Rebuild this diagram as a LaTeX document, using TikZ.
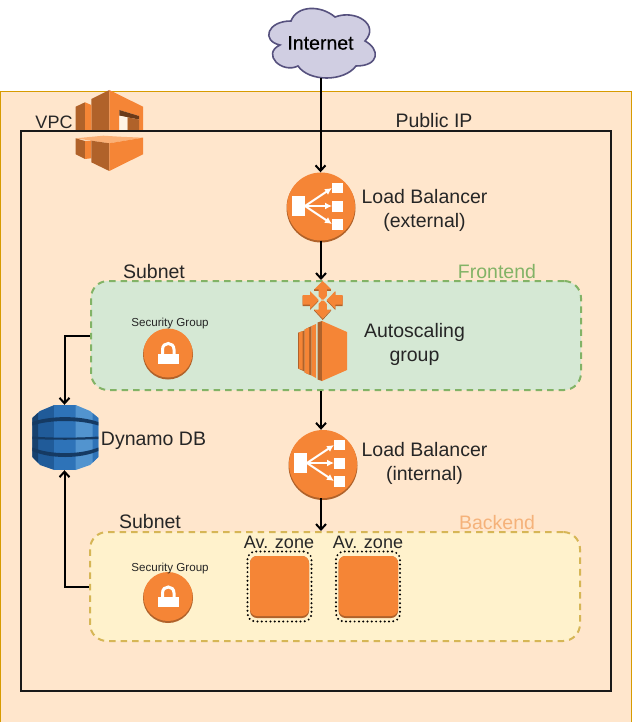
\documentclass[tikz,border=0pt]{standalone}
\usepackage{fontspec}
\setmainfont{Liberation Sans}
\usetikzlibrary{arrows.meta}
\definecolor{vpcfill}{HTML}{FFE6CC}
\definecolor{vpcline}{HTML}{D79B00}
\definecolor{frontfill}{HTML}{D5E8D4}
\definecolor{frontline}{HTML}{82B366}
\definecolor{backfill}{HTML}{FFF2CC}
\definecolor{backline}{HTML}{D6B656}
\definecolor{backtext}{HTML}{F5B27A}
\definecolor{cloudfill}{HTML}{D0CEE2}
\definecolor{cloudline}{HTML}{56517E}
\definecolor{awsorange}{HTML}{F58536}
\definecolor{awsdark}{HTML}{B0622A}
\definecolor{awsbrown}{HTML}{6B3A19}
\definecolor{awslight}{HTML}{FBB076}
\definecolor{dbleft}{HTML}{205B99}
\definecolor{dbmid}{HTML}{2E73B8}
\definecolor{dbright}{HTML}{5294CF}
\definecolor{dbdark}{HTML}{153A63}
\tikzset{
	flow/.style={line width=2pt, -{Straight Barb[length=5.5pt,width=10pt]}},
	labelbig/.style={font=\fontsize{19.5}{24}\selectfont, text=black!85, align=center, inner sep=0pt},
	labelzone/.style={font=\fontsize{18}{24}\selectfont, text=black!85, inner sep=0pt},
	labelsmall/.style={font=\fontsize{11.6}{13}\selectfont, text=black!85, inner sep=0pt},
	zonebox/.style={draw=black, line width=2.2pt, line cap=round, dash pattern=on 0pt off 4.3pt, rounded corners=8pt, minimum width=64pt, minimum height=70pt, inner sep=0pt},
	subnetbox/.style={line width=2pt, dash pattern=on 6.5pt off 5pt, rounded corners=17pt, minimum width=490pt, minimum height=109pt, inner sep=0pt},
	roundicon/.style={circle, fill=awsorange, minimum size=#1, inner sep=0pt}
}
% load balancer marks round a centre
\def\lbicon(#1,#2){
	\begin{scope}[shift={(#1,#2)}]
		\fill[white] (-29,-11) rectangle (-16,9);
		\fill[white] (11,-24.5) rectangle (22,-14);
		\fill[white] (11,-6.5) rectangle (22,4.5);
		\fill[white] (11,12) rectangle (22,22.5);
		\draw[white, line width=2pt, -{Latex[length=7pt,width=7pt]}] (-16,-1) -- (11,-19);
		\draw[white, line width=2pt, -{Latex[length=7pt,width=7pt]}] (-16,-1) -- (11,-1);
		\draw[white, line width=2pt, -{Latex[length=7pt,width=7pt]}] (-16,-1) -- (11,17);
	\end{scope}
}
\def\lockicon(#1,#2){
	\begin{scope}[shift={(#1,#2)}]
		\fill[white] (-10,0) rectangle (10.5,10);
		\draw[white, line width=3pt] (-5.5,1) -- (-5.5,-4) .. controls (-5.5,-12) and (6,-12) .. (6,-4) -- (6,1);
	\end{scope}
}
\begin{document}
\begin{tikzpicture}[x=1pt,y=-1pt]
	%%%%% START %%%%%
	\useasboundingbox (0,0) rectangle (632,722);

	% boxes
	\draw[fill=vpcfill, draw=vpcline, line width=1.2pt] (0.5,91.5) rectangle (631.5,722.5);
	\draw[line width=2pt, color=black!90] (20.5,131.5) rectangle (610.5,691);
	\node[subnetbox, draw=frontline, fill=frontfill] (frontend) at (336,335.5) {};
	\node[subnetbox, draw=backline, fill=backfill] (backend) at (335,586.5) {};

	% cloud
	\draw[fill=cloudfill, draw=cloudline, line width=1.6pt] (291,21) .. controls (267,21) and (261,41) .. (280,45)
		.. controls (261,54) and (282,74) .. (298,66)
		.. controls (309,82) and (344,82) .. (356,66)
		.. controls (380,66) and (380,49) .. (365,41)
		.. controls (380,25) and (356,9) .. (335,17)
		.. controls (321,5) and (297,5) .. (291,21) -- cycle;
	\node[minimum width=107pt, minimum height=70pt, inner sep=0pt, font=\fontsize{19.5}{22}\selectfont\addfontfeature{FakeBold=0.4}] (internet) at (320.5,43) {Internet};

	% vpc icon
	\fill[awsdark] (91.3,99) -- (109.3,90) -- (109.3,130) -- (91.3,130) -- cycle;
	\fill[awsorange] (109.3,90) -- (143,106.7) -- (143,130) -- (139,130) -- (139,116) -- (119.3,110) -- (119.3,130) -- (109.3,130) -- cycle;
	\fill[awsbrown] (119.3,110) -- (139,116) -- (139,119.5) -- (127.3,117.3) -- (119.3,115.7) -- cycle;
	\fill[awsdark] (127.3,117.3) -- (139,119.5) -- (139,130) -- (127.3,130) -- cycle;
	\fill[vpcfill!50] (119.3,115.7) -- (127.3,117.3) -- (127.3,130) -- (119.3,130) -- cycle;
	\fill[awsdark] (75.7,106.7) -- (85,102.3) -- (85,130) -- (75.7,130) -- cycle;
	\fill[awsorange] (85,102.3) -- (91.3,105) -- (91.3,130) -- (85,130) -- cycle;
	\fill[awslight] (75.7,138.3) -- (103.3,135.7) -- (120,136.7) -- (143,137.7) -- (109.3,143.3) -- (91.3,140.7) -- cycle;
	\fill[awsdark] (75.7,138.3) -- (85,141) -- (85,159) -- (75.7,154.3) -- cycle;
	\fill[awsorange] (85,141) -- (91.3,140.7) -- (91.3,158.3) -- (85,159) -- cycle;
	\fill[awsdark] (91.3,140.7) -- (109.3,143.3) -- (109.3,171) -- (91.3,162.3) -- cycle;
	\fill[awsorange] (109.3,143.3) -- (143,137.7) -- (143,154.3) -- (109.3,171) -- cycle;

	% load balancers
	\fill[awsdark] (321,208) circle (34.5);
	\node[roundicon=68pt] (lbext) at (321,206.5) {};
	\lbicon(321,207)
	\fill[awsdark] (323,465.5) circle (34.5);
	\node[roundicon=68pt] (lbint) at (323,464) {};
	\lbicon(323,464)

	% autoscaling arrows
	\begin{scope}[shift={(322.7,300)}]
		\fill[awsdark] (-8.5,-10.7) -- (-4.2,-10.7) -- (-4.2,-9.5) -- (-8.5,-9.5) -- cycle;
		\fill[awsdark] (8.5,-10.7) -- (4.2,-10.7) -- (4.2,-9.5) -- (8.5,-9.5) -- cycle;
		\fill[awsorange] (0,-19) -- (8.5,-10.7) -- (4.2,-10.7) -- (4.2,-4) -- (1,-0.5) -- (-1,-0.5) -- (-4.2,-4) -- (-4.2,-10.7) -- (-8.5,-10.7) -- cycle;
		\fill[awsdark] (-8.5,9.5) -- (0,18.5) -- (8.5,9.5) -- (8.5,10.7) -- (0,20) -- (-8.5,10.7) -- cycle;
		\fill[awsorange] (-1,0.5) -- (1,0.5) -- (4.2,4) -- (4.2,9.5) -- (8.5,9.5) -- (0,18.5) -- (-8.5,9.5) -- (-4.2,9.5) -- (-4.2,4) -- cycle;
		\fill[awsdark] (-20,-4) -- (-12.7,-4) -- (-12.7,-8) -- (-4,1) -- (-12.7,10) -- (-12.7,6) -- (-20,6) -- cycle;
		\fill[awsorange] (-20,-5) -- (-12.7,-5) -- (-12.7,-9) -- (-4,0) -- (-12.7,9) -- (-12.7,4.5) -- (-20,4.5) -- cycle;
		\fill[awsdark] (20,-4) -- (12.7,-4) -- (12.7,-8) -- (4,1) -- (12.7,10) -- (12.7,6) -- (20,6) -- cycle;
		\fill[awsorange] (20,-5) -- (12.7,-5) -- (12.7,-9) -- (4,0) -- (12.7,9) -- (12.7,4.5) -- (20,4.5) -- cycle;
	\end{scope}

	% ec2 block
	\fill[awsdark] (298,332.7) -- (304.5,330.5) -- (304.5,371.5) -- (298,368.5) -- cycle;
	\fill[awsorange] (299,332.4) -- (302.5,331.2) -- (302.5,369.8) -- (299,368.8) -- cycle;
	\fill[awsdark] (304.5,329.5) -- (311.5,326) -- (311.5,375.5) -- (304.5,372.5) -- cycle;
	\fill[awsorange] (304.5,329.5) -- (309,327.3) -- (309,374.5) -- (304.5,372.5) -- cycle;
	\fill[awsorange] (311.5,326) -- (316,324) -- (316,378) -- (311.5,375.5) -- cycle;
	\fill[awsdark] (317.7,322.5) -- (322,321) -- (322,381) -- (317.7,379.5) -- cycle;
	\fill[awsorange] (322,321) -- (347,332) -- (347,370) -- (322,381) -- cycle;

	% dynamo
	\node[minimum width=67pt, minimum height=65pt, inner sep=0pt] (dynamo) at (64.5,437.5) {};
	\fill[dbleft] (32.3,418) -- (40,411) -- (54.3,405) -- (54.3,470) -- (40,465) -- (32.3,457) -- cycle;
	\fill[dbdark!80!dbleft] (32.3,418) -- (38,412.8) -- (38,462.5) -- (32.3,457) -- cycle;
	\fill[dbmid] (54.3,405) -- (75.7,405) -- (75.7,470) -- (54.3,470) -- cycle;
	\fill[dbright] (75.7,405) -- (90,411) -- (98.3,418) -- (98.3,457) -- (90,465) -- (75.7,470) -- cycle;
	\fill[dbmid] (92.5,413) -- (98.3,418) -- (98.3,457) -- (92.5,463) -- cycle;
	\fill[dbdark] (32.3,422) .. controls (50,415.5) and (80,415.5) .. (98.3,422) -- (98.3,425.5) .. controls (80,419.5) and (50,419.5) .. (32.3,425.5) -- cycle;
	\fill[dbdark] (32.3,436.5) .. controls (50,438) and (80,438) .. (98.3,436.5) -- (98.3,439) .. controls (80,440) and (50,440) .. (32.3,439) -- cycle;
	\fill[dbdark] (32.3,447.5) .. controls (50,455) and (80,455) .. (98.3,447.5) -- (98.3,451) .. controls (80,459) and (50,459) .. (32.3,451) -- cycle;

	% security groups
	\fill[awsdark] (168,354.5) circle (25);
	\node[roundicon=49pt] (sgfront) at (168,353) {};
	\lockicon(168,353.5)
	\fill[awsdark] (168,598) circle (25);
	\node[roundicon=49pt] (sgback) at (168,596.5) {};
	\lockicon(168,597)

	% zones
	\node[zonebox] (zonea) at (279.5,586.5) {};
	\fill[awsdark, rounded corners=7pt] (250,556) rectangle (309,618);
	\fill[awsorange, rounded corners=7pt] (250,556) rectangle (309,616);
	\node[zonebox] (zoneb) at (368,586.5) {};
	\fill[awsdark, rounded corners=7pt] (338.5,556) rectangle (398,618);
	\fill[awsorange, rounded corners=7pt] (338.5,556) rectangle (398,616);

	% labels
	\node[labelzone] (vpclabel) at (54,122) {VPC};
	\node[labelbig] (publicip) at (434,121) {Public IP};
	\node[labelbig] (lbextlabel) at (424.5,210) {Load Balancer\\(external)};
	\node[labelbig] (lbintlabel) at (424.5,463) {Load Balancer\\(internal)};
	\node[labelbig] (subfront) at (154,272) {Subnet};
	\node[labelbig] (subback) at (150,522) {Subnet};
	\node[labelbig, text=frontline] (frontlabel) at (497,272) {Frontend};
	\node[labelbig, text=backtext] (backlabel) at (497,523) {Backend};
	\node[labelbig] (asglabel) at (414.5,344) {Autoscaling\\group};
	\node[labelbig] (dynamolabel) at (153.5,441) {Dynamo DB};
	\node[labelzone] (zonealabel) at (279,542) {Av. zone};
	\node[labelzone] (zoneblabel) at (368,542) {Av. zone};
	\node[labelsmall] (sgfrontlabel) at (170,323) {Security Group};
	\node[labelsmall] (sgbacklabel) at (170,568) {Security Group};

	% connectors
	\draw[flow] (internet.south) -- (internet.south |- lbext.north);
	\draw[flow] (lbext.south) -- (lbext.south |- frontend.north);
	\draw[flow] (frontend.south -| lbext) -- (lbext |- lbint.north);
	\draw[flow] (lbext |- lbint.south) -- (lbext |- backend.north);
	\draw[flow] (frontend.west) -| (dynamo.north);
	\draw[flow] (backend.west) -| (dynamo.south);
	%%%%% END %%%%%
\end{tikzpicture}
\end{document}
